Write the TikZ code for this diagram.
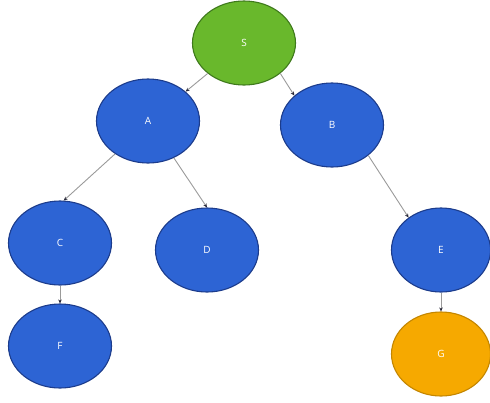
\documentclass[tikz,border=0pt]{standalone}
\usepackage{fontspec}
\setmainfont{Open Sans}
\usetikzlibrary{shapes.geometric,arrows.meta}
\definecolor{nodeblue}{HTML}{2D64D4}
\definecolor{blueline}{HTML}{1C3C8C}
\definecolor{nodegreen}{HTML}{69B82C}
\definecolor{greenline}{HTML}{3F7A1C}
\definecolor{nodeorange}{HTML}{F6A900}
\definecolor{orangeline}{HTML}{C48600}
\definecolor{edgegray}{HTML}{9A9A9A}
\definecolor{tipcol}{HTML}{2A2A3A}
\tikzset{
  tnode/.style={ellipse, minimum width=103pt, minimum height=84pt, inner sep=0pt,
    line width=1.1pt, text=white, font=\fontsize{10}{11}\selectfont},
  bluenode/.style={tnode, fill=nodeblue, draw=blueline},
  greennode/.style={tnode, fill=nodegreen, draw=greenline},
  orangenode/.style={tnode, fill=nodeorange, draw=orangeline},
  edge/.style={draw=edgegray, line width=0.9pt, -{Stealth[length=4pt,width=3.5pt,color=tipcol]}}
}
\begin{document}
\begin{tikzpicture}[x=1pt,y=-1pt]
\useasboundingbox (0,0) rectangle (490,402);
\node[greennode] (S) at (244,43) {S};
\node[bluenode] (A) at (148,121) {A};
\node[bluenode] (B) at (332,125) {B};
\node[bluenode] (C) at (60,243) {C};
\node[bluenode] (D) at (207,250) {D};
\node[bluenode] (F) at (60,346) {F};
\node[bluenode, minimum width=99pt] (E) at (441,250) {E};
\node[orangenode, minimum width=99pt] (G) at (441,354) {G};
\draw[edge] (S.-140) -- (A.38);
\draw[edge] (S.-40) -- (B.142);
\draw[edge] (A.225) -- (C.85);
\draw[edge] (A.-55) -- (D.north);
\draw[edge] (B.-40) -- (E.135);
\draw[edge] (C.south) -- (F.north);
\draw[edge] (E.south) -- (G.north);
\end{tikzpicture}
\end{document}
